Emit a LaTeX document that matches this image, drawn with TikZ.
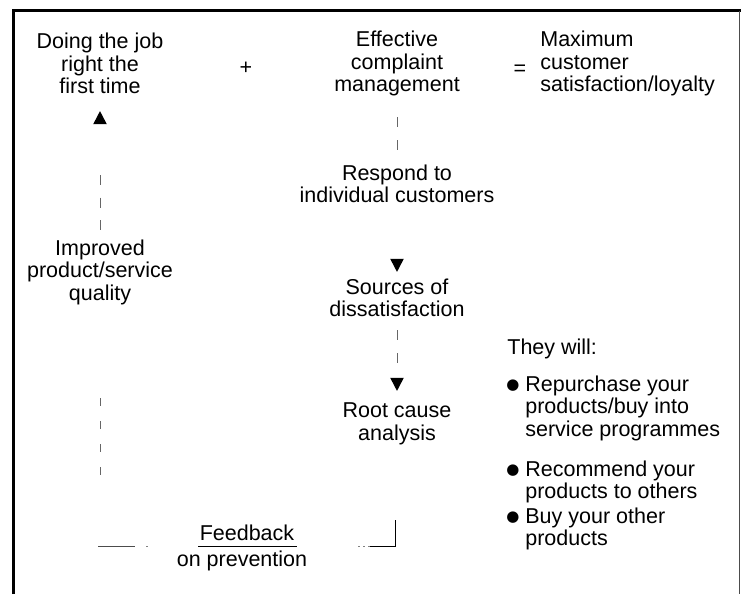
\documentclass[tikz,border=0pt]{standalone}
\usepackage{fontspec}
\setmainfont{Liberation Sans}
\newfontfamily\symfont{DejaVu Sans}
\usetikzlibrary{shapes.geometric}

\tikzset{every picture/.style={line width=0.75pt}}
\tikzset{
	lbl/.style={font=\fontsize{21.5}{22.5}\selectfont, inner sep=0pt, align=center},
	lbll/.style={font=\fontsize{21.5}{22.5}\selectfont, inner sep=0pt, align=left, anchor=west},
	dot/.style={font=\symfont\fontsize{15}{15}\selectfont, inner sep=0pt},
	dashline/.style={draw=black!60, line width=0.8pt, dash pattern=on 10pt off 13pt},
	tri/.style={fill=black, inner sep=0pt, minimum size=13pt, isosceles triangle, isosceles triangle apex angle=55},
}

\begin{document}
\begin{tikzpicture}[x=1pt,y=1pt,yscale=-1,xscale=1]
	\useasboundingbox (0,0) rectangle (741,594);

	%Frame
	\draw [line width=3pt] (13,594) -- (13,11) -- (741,11) ;
	\draw [line width=0.8pt, black!70] (739,11) -- (739,594) ;

	% Text Node
	\node [lbl] (job) at (100,63.5) {Doing the job\\right the\\first time};
	% Text Node
	\node [lbl] (plus) at (246,68) {+};
	% Text Node
	\node [lbl] (ecm) at (397,63.5) {Effective\\complaint\\management};
	% Text Node
	\node [lbl] (eq) at (520,70) {=};
	% Text Node
	\node [lbll] (max) at (540,63.5) {Maximum\\customer\\satisfaction/loyalty};
	% Text Node
	\node [lbl] (resp) at (397,184) {Respond to\\individual customers};
	% Text Node
	\node [lbl] (impr) at (100,272) {Improved\\product/service\\quality};
	% Text Node
	\node [lbl] (src) at (397,298) {Sources of\\dissatisfaction};
	% Text Node
	\node [lbl] (root) at (397,424) {Root cause\\analysis};
	% Text Node
	\node [lbl] (fb) at (247,533) {Feedback};
	% Text Node
	\node [lbl] (prev) at (242,561) {on prevention};
	% Text Node
	\node [lbll] (will) at (507,349) {They will:};
	% Text Node
	\node [lbll] (b1) at (525,408) {Repurchase your\\products/buy into\\service programmes};
	\node [dot] (d1) at (513,386) {●};
	% Text Node
	\node [lbll] (b2) at (525,482) {Recommend your\\products to others};
	\node [dot] (d2) at (513,471) {●};
	% Text Node
	\node [lbll] (b3) at (525,529) {Buy your other\\products};
	\node [dot] (d3) at (513,518) {●};

	%Arrow heads
	\node [tri, shape border rotate=90] (upj) at (100,120) {};
	\node [tri, shape border rotate=-90] (dsrc) at (397,263) {};
	\node [tri, shape border rotate=-90] (droot) at (397,382) {};

	%Connectors
	\draw [dashline] (397,117) -- (397,150) ;
	\draw [dashline, dash pattern=on 10pt off 12.5pt] (100,175) -- (100,230) ;
	\draw [dashline] (397,330) -- (397,363) ;
	\draw [dashline, dash pattern=on 8pt off 15pt] (100,398) -- (100,475) ;
	\coordinate (fl) at (98,546) ;
	\coordinate (fr) at (395,546) ;
	\draw [line width=0.8pt, black!70] (fl) -- ++(37,0) ;
	\draw [line width=0.8pt, black!50] (146,546) -- ++(2,0) ;
	\draw [line width=0.8pt] (198,546) -- (297,546) ;
	\draw [line width=0.8pt, black!50, dash pattern=on 2pt off 3pt] (358,546) -- (370,546) ;
	\draw [line width=0.8pt] (370,546) -- (fr) -- ++(0,-26) ;
\end{tikzpicture}
\end{document}
